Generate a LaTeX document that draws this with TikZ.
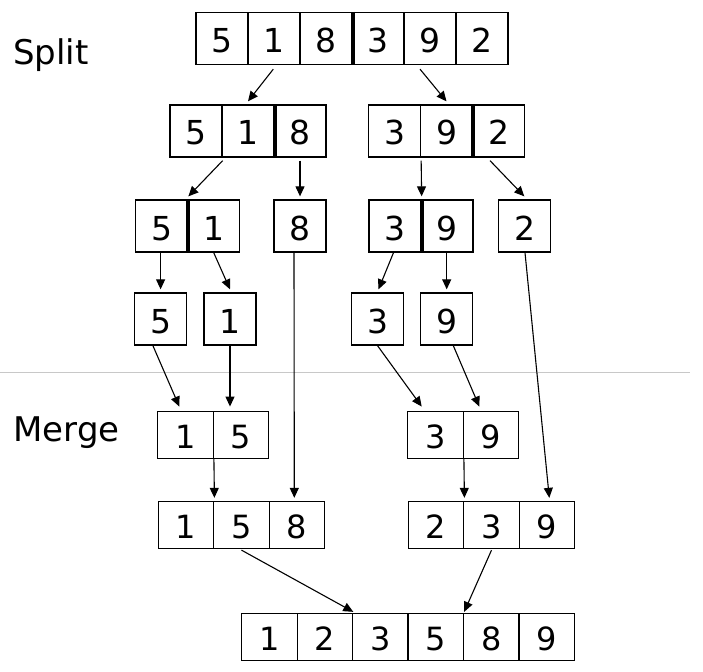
\documentclass[tikz,border=0pt]{standalone}
\usepackage{fontspec}
\setmainfont{DejaVu Sans}
\usetikzlibrary{arrows.meta}
\tikzset{
  sc/.style={draw, line width=1.3pt, minimum width=52pt, minimum height=52pt, inner sep=0pt, text height=28pt, text depth=0pt, font=\fontsize{33}{33}\selectfont},
  mc/.style={draw, line width=1.3pt, minimum width=55.5pt, minimum height=47pt, inner sep=0pt, text height=27.3pt, text depth=0pt, font=\fontsize{32}{32}\selectfont},
  arr/.style={line width=1.1pt, -{Triangle[length=10pt,width=9pt]}},
  thickdiv/.style={line width=4pt},
  lbl/.style={anchor=base west, inner sep=0pt, font=\fontsize{34}{34}\selectfont},
  sep/.style={line width=1.5pt, draw={rgb,255:red,200;green,200;blue,200}}
}
\begin{document}
\begin{tikzpicture}[x=1pt,y=-1pt]
\useasboundingbox (0,0) rectangle (703,671);
% labels
\node[lbl] (split) at (12.8,64.5) {Split};
\node[lbl] (merge) at (13.4,441.7) {Merge};
% separator
\coordinate (sepL) at (0,372.7);
\coordinate (sepR) at (690,372.7);
\draw[sep] (sepL) -- (sepR);
% top row
\node[sc] (t1) at (222,38.5) {5};
\node[sc] (t2) at (274,38.5) {1};
\node[sc] (t3) at (326,38.5) {8};
\node[sc] (t4) at (378,38.5) {3};
\node[sc] (t5) at (430,38.5) {9};
\node[sc] (t6) at (482,38.5) {2};
\draw[thickdiv] (t3.north east) -- (t3.south east);
% row 2
\node[sc] (a1) at (196,131) {5};
\node[sc] (a2) at (248,131) {1};
\node[sc] (a3) at (300,131) {8};
\draw[thickdiv] (a2.north east) -- (a2.south east);
\node[sc] (b1) at (394.5,131) {3};
\node[sc] (b2) at (446.5,131) {9};
\node[sc] (b3) at (498.5,131) {2};
\draw[thickdiv] (b2.north east) -- (b2.south east);
% row 3
\node[sc] (c1) at (161.7,226) {5};
\node[sc] (c2) at (213.7,226) {1};
\draw[thickdiv] (c1.north east) -- (c1.south east);
\node[sc] (c3) at (300,226) {8};
\node[sc] (d1) at (395,226) {3};
\node[sc] (d2) at (447,226) {9};
\draw[thickdiv] (d1.north east) -- (d1.south east);
\node[sc] (p2) at (524.7,226) {2};
% row 4
\node[sc] (e1) at (160.6,319) {5};
\node[sc] (e2) at (230,319) {1};
\node[sc] (f1) at (377.5,319) {3};
\node[sc] (f2) at (446.7,319) {9};
% merge row 5
\node[mc] (g1) at (185.5,434.7) {1};
\node[mc] (g2) at (241,434.7) {5};
\node[mc] (h1) at (435.5,434.7) {3};
\node[mc] (h2) at (491,434.7) {9};
% row 6
\node[mc] (k1) at (186,525) {1};
\node[mc] (k2) at (241.5,525) {5};
\node[mc] (k3) at (297,525) {8};
\node[mc] (m1) at (436,525) {2};
\node[mc] (m2) at (491.5,525) {3};
\node[mc] (m3) at (547,525) {9};
% final
\node[mc] (n1) at (269.4,637) {1};
\node[mc] (n2) at (324.9,637) {2};
\node[mc] (n3) at (380.3,637) {3};
\node[mc] (n4) at (435.8,637) {5};
\node[mc] (n5) at (491.2,637) {8};
\node[mc] (n6) at (546.7,637) {9};
% split arrows
\draw[arr] ([xshift=-0.7pt,yshift=-4pt]t2.south) -- ([yshift=3pt]a2.north);
\draw[arr] ([xshift=-10pt,yshift=-4pt]t5.south) -- ([yshift=3pt]b2.north);
\draw[arr] ([yshift=-3pt]a1.south east) -- ([yshift=3pt]c1.north east);
\draw[arr] ([yshift=-3pt]a3.south) -- ([yshift=3pt]c3.north);
\draw[arr] ([yshift=-3pt]b1.south east) -- ([yshift=3pt]d1.north east);
\draw[arr] ([xshift=-8.5pt,yshift=-3pt]b3.south) -- ([xshift=-0.4pt,yshift=3pt]p2.north);
\draw[arr] (c1.south -| e1) -- ([yshift=3pt]e1.north);
\draw[arr] (c2.south) -- ([yshift=3pt]e2.north);
\draw[arr] ([xshift=-1.5pt]d1.south) -- ([xshift=1pt,yshift=3pt]f1.north);
\draw[arr] (d2.south -| f2) -- ([yshift=3pt]f2.north);
% merge arrows
\draw[arr] ([xshift=-7.7pt]e1.south) -- ([xshift=-6.2pt,yshift=4pt]g1.north);
\draw[arr] (e2.south) -- ([xshift=-11pt,yshift=4pt]g2.north);
\draw[arr] (f1.south) -- ([xshift=-13.8pt,yshift=4pt]h1.north);
\draw[arr] ([xshift=6.6pt]f2.south) -- ([xshift=-11.7pt,yshift=4pt]h2.north);
\draw[arr] ([xshift=-6pt]c3.south) -- ([xshift=-2.7pt,yshift=3pt]k3.north);
\draw[arr] ([xshift=0.3pt]p2.south) -- ([xshift=2.3pt,yshift=3pt]m3.north);
\draw[arr] (g1.south east) -- ([yshift=3pt]k1.north east);
\draw[arr] (h1.south east) -- ([yshift=3pt]m1.north east);
\draw[arr] ([yshift=-1pt]k2.south) -- ([yshift=1pt]n2.north east);
\draw[arr] ([yshift=-1pt]m2.south) -- ([yshift=1pt]n4.north east);
\end{tikzpicture}
\end{document}
